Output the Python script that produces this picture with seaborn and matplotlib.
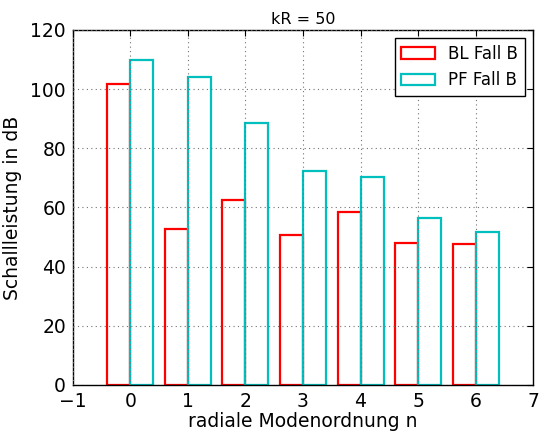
import seaborn as sns
import numpy as np
import pandas as pd
import matplotlib
matplotlib.use('Agg')
import matplotlib.pyplot as plt

n = [0, 1, 2, 3, 4, 5, 6]
bl_fall_b = [101.8, 52.8, 62.4, 50.6, 58.6, 47.9, 47.7]
pf_fall_b = [109.7, 104.1, 88.5, 72.4, 70.2, 56.6, 51.7]
series = ['BL Fall B', 'PF Fall B']

df = pd.DataFrame({
    'n': n + n,
    'value': bl_fall_b + pf_fall_b,
    'series': [series[0]] * len(n) + [series[1]] * len(n),
})

sns.set_style('white')
plt.rcParams['font.family'] = ['DejaVu Sans']
plt.rcParams['text.color'] = 'black'
plt.rcParams['axes.labelcolor'] = 'black'
plt.rcParams['xtick.color'] = 'black'
plt.rcParams['ytick.color'] = 'black'
plt.rcParams['xtick.direction'] = 'in'
plt.rcParams['ytick.direction'] = 'in'
plt.rcParams['xtick.top'] = True
plt.rcParams['ytick.right'] = True

fig = plt.figure(figsize=(5.39, 4.32), dpi=100)
ax = fig.add_axes([0.1354, 0.1088, 0.8535, 0.8218])

sns.barplot(data=df, x='n', y='value', hue='series', hue_order=series,
            palette=['#ff0000', '#00bfbf'], fill=False, native_scale=True,
            linewidth=1.6, errorbar=None, width=0.8, ax=ax)

ax.set_xlim(-1, 7)
ax.set_ylim(0, 120)
ax.set_xticks(range(-1, 8))
ax.set_yticks(range(0, 121, 20))
ax.grid(True, color='0.45', linestyle=(0, (1, 3)), linewidth=0.8)
ax.set_axisbelow(False)
for s in ax.spines.values():
    s.set_color('black')
    s.set_linewidth(1)
ax.tick_params(axis='both', which='major', length=4, width=0.8, color='black',
               labelsize=13.5, pad=5)

ax.set_title('kR = 50', fontsize=11.5, pad=4)
ax.set_xlabel('radiale Modenordnung n', fontsize=13.5, labelpad=1)
ax.set_ylabel('Schallleistung in dB', fontsize=13.5, labelpad=6)

leg = ax.legend(loc='upper right', fontsize=12, fancybox=False, frameon=True,
                edgecolor='black', framealpha=1, borderaxespad=0.5)
leg.get_frame().set_linewidth(1)

fig.savefig('out.png', dpi=100)
